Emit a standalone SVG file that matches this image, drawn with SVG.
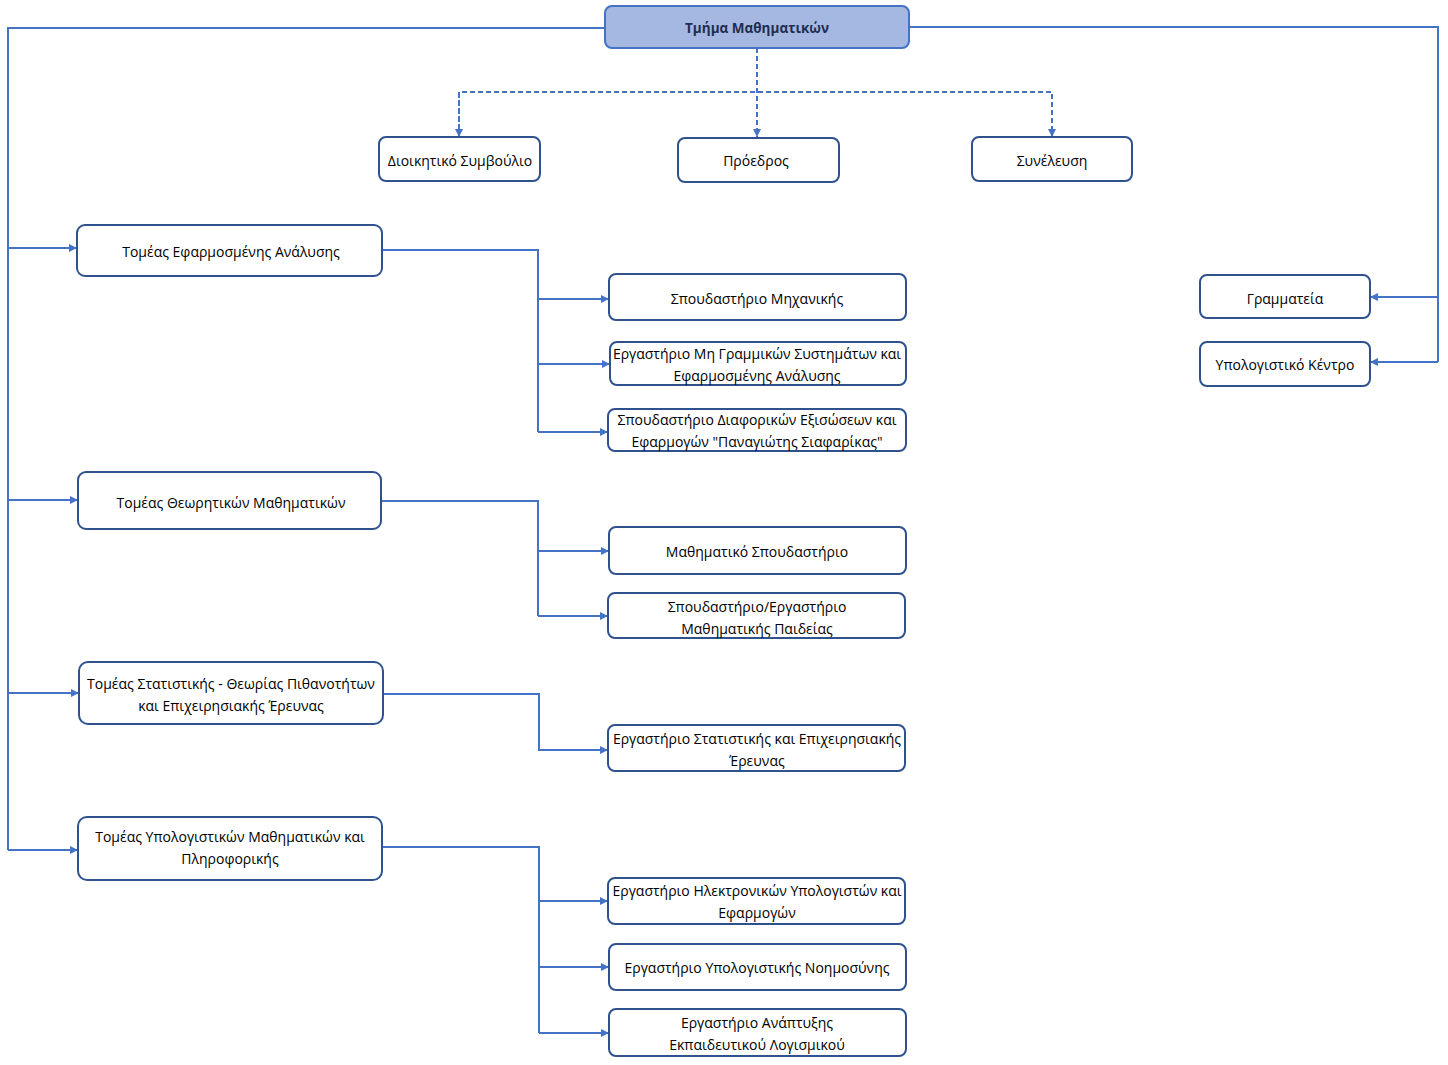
<svg xmlns="http://www.w3.org/2000/svg" width="1448" height="1065" viewBox="0 0 1448 1065">
<defs>
<marker id="arr" viewBox="0 0 10 10" refX="10" refY="5" markerWidth="4.5" markerHeight="4" markerUnits="strokeWidth" orient="auto">
<path d="M0,0 L10,5 L0,10 z" fill="#4472C4"/>
</marker>
<style>
.n rect{fill:#ffffff;stroke:#2F528F;stroke-width:2}
.top rect{fill:#A4B8E1;stroke:#4472C4;stroke-width:2}
text{font-family:"Open Sans","Noto Sans","DejaVu Sans",sans-serif;font-size:14px;fill:#000;text-anchor:middle;dominant-baseline:central}
.top text{font-weight:bold;fill:#1F2D50;font-size:13.5px}
.c path{fill:none;stroke:#4472C4;stroke-width:2}
.c .d{stroke-dasharray:5 3}
</style>
</defs>
<rect width="1448" height="1065" fill="#ffffff"/>
<g class="c" id="connectors">
<path d="M605,28 H8 V850"/>
<path d="M8,248 H77" marker-end="url(#arr)"/>
<path d="M8,500 H78" marker-end="url(#arr)"/>
<path d="M8,693 H79" marker-end="url(#arr)"/>
<path d="M8,850 H78" marker-end="url(#arr)"/>
<path d="M909,27 H1438 V362"/>
<path d="M1438,297 H1370" marker-end="url(#arr)"/>
<path d="M1438,362 H1370" marker-end="url(#arr)"/>
<path class="d" d="M757,48 V137" marker-end="url(#arr)"/>
<path class="d" d="M459,137 V92 H1052 V137" marker-end="url(#arr)"/>
<path class="d" d="M459,93 V137" marker-end="url(#arr)"/>
<path d="M382,250 H538 V432"/>
<path d="M538,299 H609" marker-end="url(#arr)"/>
<path d="M538,364 H610" marker-end="url(#arr)"/>
<path d="M538,432 H608" marker-end="url(#arr)"/>
<path d="M381,501 H538 V616"/>
<path d="M538,551 H609" marker-end="url(#arr)"/>
<path d="M538,616 H608" marker-end="url(#arr)"/>
<path d="M383,694 H539 V750 H608" marker-end="url(#arr)"/>
<path d="M382,847 H539 V1033"/>
<path d="M539,901 H608" marker-end="url(#arr)"/>
<path d="M539,967 H609" marker-end="url(#arr)"/>
<path d="M539,1033 H609" marker-end="url(#arr)"/>
</g>
<g class="top" id="n-tmima"><rect x="605" y="6" width="304" height="42" rx="7"/><text x="757" y="28">Τμήμα Μαθηματικών</text></g>
<g class="n" id="n-ds"><rect x="379" y="137" width="161" height="44" rx="7"/><text x="460" y="160">Διοικητικό Συμβούλιο</text></g>
<g class="n" id="n-proedros"><rect x="678" y="138" width="161" height="44" rx="7"/><text x="756" y="160">Πρόεδρος</text></g>
<g class="n" id="n-synelefsi"><rect x="972" y="137" width="160" height="44" rx="7"/><text x="1052" y="160">Συνέλευση</text></g>
<g class="n" id="n-grammateia"><rect x="1200" y="275" width="170" height="43" rx="7"/><text x="1285" y="298">Γραμματεία</text></g>
<g class="n" id="n-yk"><rect x="1200" y="342" width="170" height="44" rx="7"/><text x="1285" y="364">Υπολογιστικό Κέντρο</text></g>
<g class="n" id="n-tea"><rect x="77" y="225" width="305" height="51" rx="8"/><text x="231" y="251">Τομέας Εφαρμοσμένης Ανάλυσης</text></g>
<g class="n" id="n-spm"><rect x="609" y="274" width="297" height="46" rx="7"/><text x="757" y="298">Σπουδαστήριο Μηχανικής</text></g>
<g class="n" id="n-emgs"><rect x="610" y="342" width="296" height="43" rx="7"/><text x="757" y="353">Εργαστήριο Μη Γραμμικών Συστημάτων και</text><text x="757" y="375">Εφαρμοσμένης Ανάλυσης</text></g>
<g class="n" id="n-spde"><rect x="608" y="409" width="298" height="42" rx="7"/><text x="757" y="419">Σπουδαστήριο Διαφορικών Εξισώσεων και</text><text x="757" y="441">Εφαρμογών "Παναγιώτης Σιαφαρίκας"</text></g>
<g class="n" id="n-tthm"><rect x="78" y="472" width="303" height="57" rx="8"/><text x="231" y="502">Τομέας Θεωρητικών Μαθηματικών</text></g>
<g class="n" id="n-msp"><rect x="609" y="527" width="297" height="47" rx="7"/><text x="757" y="551">Μαθηματικό Σπουδαστήριο</text></g>
<g class="n" id="n-semp"><rect x="608" y="593" width="297" height="45" rx="7"/><text x="757" y="606">Σπουδαστήριο/Εργαστήριο</text><text x="757" y="628">Μαθηματικής Παιδείας</text></g>
<g class="n" id="n-tst"><rect x="79" y="662" width="304" height="62" rx="9"/><text x="231" y="683">Τομέας Στατιστικής - Θεωρίας Πιθανοτήτων</text><text x="231" y="705">και Επιχειρησιακής Έρευνας</text></g>
<g class="n" id="n-este"><rect x="608" y="725" width="297" height="46" rx="7"/><text x="757" y="738">Εργαστήριο Στατιστικής και Επιχειρησιακής</text><text x="757" y="760">Έρευνας</text></g>
<g class="n" id="n-tymp"><rect x="78" y="817" width="304" height="63" rx="9"/><text x="230" y="836">Τομέας Υπολογιστικών Μαθηματικών και</text><text x="230" y="858">Πληροφορικής</text></g>
<g class="n" id="n-ehye"><rect x="608" y="878" width="297" height="46" rx="7"/><text x="757" y="890">Εργαστήριο Ηλεκτρονικών Υπολογιστών και</text><text x="757" y="912">Εφαρμογών</text></g>
<g class="n" id="n-eyn"><rect x="609" y="944" width="297" height="46" rx="7"/><text x="757" y="967">Εργαστήριο Υπολογιστικής Νοημοσύνης</text></g>
<g class="n" id="n-eael"><rect x="609" y="1009" width="297" height="47" rx="7"/><text x="757" y="1022">Εργαστήριο Ανάπτυξης</text><text x="757" y="1044">Εκπαιδευτικού Λογισμικού</text></g>
</svg>
